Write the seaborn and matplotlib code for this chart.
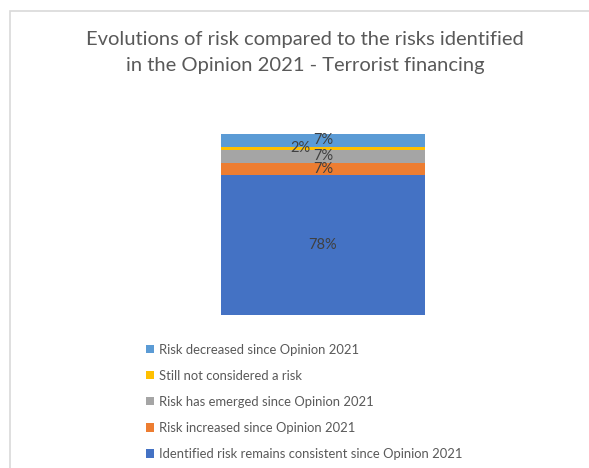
import matplotlib
matplotlib.use('Agg')
import matplotlib.pyplot as plt
import seaborn as sns
from matplotlib.patches import Patch, Rectangle

# Dados (de baixo para cima)
categories = ['Identified risk remains consistent since Opinion 2021',
              'Risk increased since Opinion 2021',
              'Risk has emerged since Opinion 2021',
              'Still not considered a risk',
              'Risk decreased since Opinion 2021']
values = [78, 7, 7, 2, 7]
colors = ['#4472C4', '#ED7D31', '#A5A5A5', '#FFC000', '#5B9BD5']
label_offsets = [0, 0, 0, -16, 0]

sns.set_style('white')
plt.rcParams['font.family'] = ['Lato', 'DejaVu Sans']

W, H = 589, 468
fig = plt.figure(figsize=(W / 100, H / 100), dpi=100)

# moldura do gráfico
fig.patches.append(Rectangle((10 / W, -0.1), 1.2, 1 - 11 / H + 0.1, transform=fig.transFigure,
                             fill=False, edgecolor='#D9D9D9', linewidth=1.2))

ax = fig.add_axes([221 / W, 1 - 315 / H, (425 - 221) / W, (315 - 134) / H])

cum = 0
for cat, v, c, off in zip(categories, values, colors, label_offsets):
    sns.barplot(x=[0], y=[v], bottom=cum, color=c, width=1.0, ax=ax,
                saturation=1, edgecolor='none', linewidth=0)
    ax.annotate(f'{v}%', (0, cum + v / 2), xytext=(off, 0), textcoords='offset points',
                ha='center', va='center', fontsize=10.5, color='#404040')
    cum += v

ax.set_xlim(-0.5, 0.5)
ax.set_ylim(0, cum)
ax.axis('off')

fig.text(305 / W, 1 - 40 / H, 'Evolutions of risk compared to the risks identified',
         ha='center', va='center', fontsize=14.5, color='#595959')
fig.text(305 / W, 1 - 66 / H, 'in the Opinion 2021 - Terrorist financing',
         ha='center', va='center', fontsize=14.5, color='#595959')

handles = [Patch(facecolor=c, edgecolor='none') for c in colors][::-1]
fig.legend(handles, categories[::-1], loc='upper left', bbox_to_anchor=(134 / W, 1 - 332 / H),
           frameon=False, fontsize=9.4, labelcolor='#595959', handlelength=0.6, handleheight=0.6,
           handletextpad=0.4, labelspacing=1.08)

plt.savefig('out.png', dpi=100)
